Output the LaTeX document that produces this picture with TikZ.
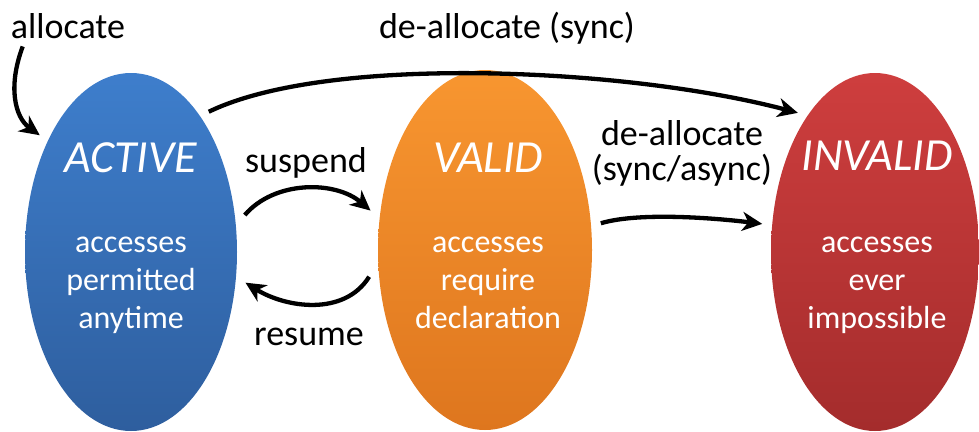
\documentclass[tikz,border=0pt]{standalone}
\usepackage{fontspec}
\setmainfont{Carlito}
\usetikzlibrary{shapes.geometric,arrows.meta}
\definecolor{actTop}{RGB}{62,126,204}
\definecolor{actBot}{RGB}{46,94,158}
\definecolor{valTop}{RGB}{248,150,48}
\definecolor{valBot}{RGB}{222,118,30}
\definecolor{invTop}{RGB}{206,62,62}
\definecolor{invBot}{RGB}{164,44,44}
\tikzset{
  state/.style={ellipse, draw=none, inner sep=0pt, outer sep=10pt,
    minimum width=212pt, minimum height=358pt},
  title/.style={anchor=base, text=white, font=\fontsize{46}{50}\selectfont\itshape},
  body/.style={anchor=base, text=white, align=center, inner sep=0pt,
    font=\fontsize{32}{38}\selectfont},
  lbl/.style={anchor=base, text=black, align=center, inner sep=0pt,
    font=\fontsize{36}{35}\selectfont},
  arr/.style={line width=4.3pt, black,
    -{Stealth[length=20pt,width=19pt,inset=6pt]}}
}
\begin{document}
\begin{tikzpicture}[x=1pt,y=-1pt]
  \useasboundingbox (0,0) rectangle (979,431);
  % the three states
  \node[state, top color=actTop, bottom color=actBot] (active) at (131,252) {};
  \node[state, top color=valTop, bottom color=valBot, minimum width=214pt, minimum height=360pt] (valid) at (485,250) {};
  \node[state, top color=invTop, bottom color=invBot, minimum width=208pt] (invalid) at (875,252) {};
  % state texts
  \node[title] (activeT) at (131,172) {ACTIVE};
  \node[title] (validT) at (488,172) {VALID};
  \node[title] (invalidT) at (877,170) {INVALID};
  \node[body] (activeB) at (131,252) {accesses};
  \node[body] (activeB2) at (131,290) {permitted};
  \node[body] (activeB3) at (131,328) {anytime};
  \node[body] (validB) at (488,252) {accesses};
  \node[body] (validB2) at (488,290) {require};
  \node[body] (validB3) at (488,328) {declaration};
  \node[body] (invalidB) at (877,252) {accesses};
  \node[body] (invalidB2) at (877,290) {ever};
  \node[body] (invalidB3) at (877,328) {impossible};
  % transition labels
  \node[lbl] (alloc) at (68,38) {allocate};
  \node[lbl] (dealloc) at (507,38) {de-allocate (sync)};
  \node[lbl] (suspend) at (306,172) {suspend};
  \node[lbl] (resume) at (309,345) {resume};
  \node[lbl] (dealloc2) at (682,145) {de-allocate};
  \node[lbl] (dealloc3) at (682,180) {(sync/async)};
  % transitions
  \draw[arr] ([xshift=12pt,yshift=-8pt]alloc.south west) .. controls +(-15,40) and +(-25,-18) .. (active.128);
  \draw[arr] (active.61) .. controls +(120,-58) and +(-170,-45) .. (invalid.119);
  \draw[arr] (active.18) .. controls +(30,-35) and +(-35,-30) .. (valid.161);
  \draw[arr] (valid.193) .. controls +(-25,40) and +(40,25) .. (active.-15);
  \draw[arr] (valid.13) .. controls +(40,-12) and +(-40,-5) .. (invalid.166);
\end{tikzpicture}
\end{document}
